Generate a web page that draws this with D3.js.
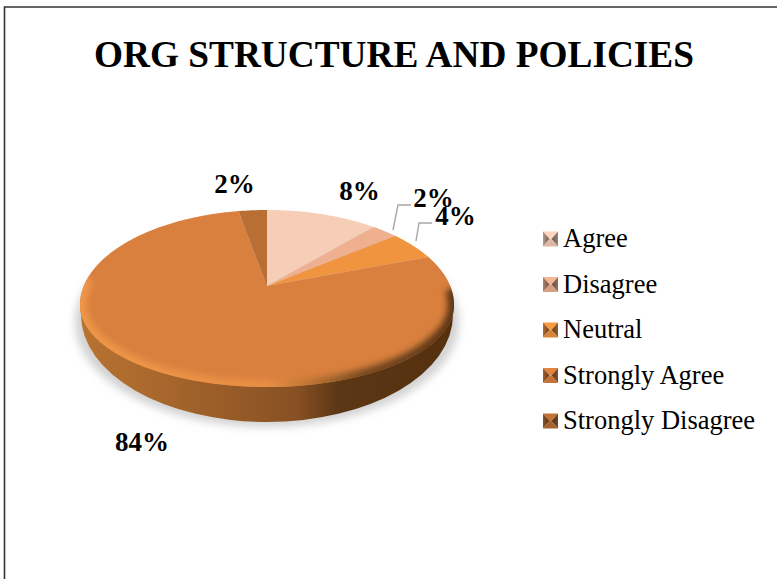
<!DOCTYPE html>
<html>
<head>
<meta charset="utf-8">
<script src="https://cdn.jsdelivr.net/npm/d3@7"></script>
<style>
  html, body { margin: 0; padding: 0; background: #fff; }
  svg { display: block; }
  text { font-family: "Liberation Serif", serif; fill: #000; }
</style>
</head>
<body>
<div id="chart"></div>
<script>
// Survey shares for the organisation structure and policies question
const categories = ["Agree", "Disagree", "Neutral", "Strongly Agree", "Strongly Disagree"];
const shares = [8, 2, 4, 84, 2];
const titleText = "ORG STRUCTURE AND POLICIES";

// Slice and legend colours
const sliceColors = ["#f6cdb6", "#eeb08e", "#f0943f", "#d9803e", "#b96f33"];

// Hand-placed value labels, leader lines where a label sits off its slice
const labelSpots = [[359.5, 200], [433.5, 207], [455.5, 225], [142, 451], [234.5, 193]];
const leaderLines = [
  [[393, 230], [398, 205], [411, 205]],
  [[416, 241], [419, 223], [432, 223]]
];

const width = 777, height = 579;
// The face is egg-shaped: its far half is deeper than its near half, as in a perspective view
const disc = { cx: 267, cy: 305, rx: 187, ryFar: 95, ryNear: 82, apexY: 286, skew: 1.22 };
const base = { cy: 315, rx: 186, ry: 107 };

const svg = d3.select("#chart").append("svg")
  .attr("width", width).attr("height", height);
const defs = svg.append("defs");

function gradient(id, stops, attrs) {
  const g = defs.append("linearGradient").attr("id", id);
  Object.entries(attrs).forEach(([k, v]) => g.attr(k, v));
  stops.forEach(([o, c]) => g.append("stop").attr("offset", o).attr("stop-color", c));
}
function blur(id, sd) {
  defs.append("filter").attr("id", id)
    .attr("x", "-10%").attr("y", "-20%").attr("width", "120%").attr("height", "140%")
    .append("feGaussianBlur").attr("stdDeviation", sd);
}

const acrossDisc = { gradientUnits: "userSpaceOnUse", x1: disc.cx - disc.rx, x2: disc.cx + disc.rx, y1: 0, y2: 0 };
gradient("wall", [[0, "#b87331"], [0.2, "#a9682d"], [0.58, "#885023"], [0.69, "#5c3716"], [1, "#55300f"]], acrossDisc);
gradient("rim", [[0, "#ee9748"], [0.5, "#e98f45"], [0.62, "#ba7433"], [0.76, "#754720"], [1, "#5c3615"]], acrossDisc);
blur("soft-shadow", 4);
blur("soft-rim", 3.2);
blur("soft-swatch", 0.5);

// Page frame: only the top and left rules are visible
svg.append("path")
  .attr("d", d3.line()([[4.5, height], [4.5, 7], [width, 7]]))
  .attr("fill", "none").attr("stroke", "#333").attr("stroke-width", 1.6);

svg.append("text")
  .attr("x", 394).attr("y", 67)
  .attr("text-anchor", "middle")
  .attr("font-size", 37.3).attr("font-weight", "bold")
  .text(titleText);

// Point on the rim of the face for an ellipse parameter, clockwise from twelve o'clock
const rimPoint = phi => {
  const c = Math.cos(phi);
  return [disc.cx + disc.rx * Math.sin(phi), disc.cy - (c >= 0 ? disc.ryFar : disc.ryNear) * c];
};
// Disc angle to ellipse parameter; the skew spreads the far side as the tilted view does
const toPhi = theta => 2 * Math.atan2(disc.skew * Math.abs(Math.sin(theta / 2)), Math.cos(theta / 2));
const rimRun = (from, to) => {
  const n = Math.max(2, Math.ceil(Math.abs(to - from) / 0.01));
  return d3.range(n + 1).map(i => rimPoint(from + (to - from) * i / n));
};
const line = d3.line();

const pie = d3.pie().sort(null).value(d => d.share).startAngle(0).endAngle(2 * Math.PI);
const arcs = pie(categories.map((name, i) => ({ name, share: shares[i] })));
const color = d3.scaleOrdinal().domain(categories).range(sliceColors);

// Drop shadow under the disc
svg.append("ellipse")
  .attr("cx", disc.cx).attr("cy", base.cy + 7)
  .attr("rx", base.rx + 6).attr("ry", base.ry - 2)
  .attr("fill", "#d2d2d2").attr("filter", "url(#soft-shadow)");

// Side wall: the near half of the smaller base outline
const { cx, rx } = disc;
svg.append("path")
  .attr("d", `M${cx - rx},${disc.cy} L${cx - base.rx},${base.cy} A${base.rx},${base.ry} 0 0 0 ${cx + base.rx},${base.cy} L${cx + rx},${disc.cy} Z`)
  .attr("fill", "url(#wall)");

// Top face slices, drawn clockwise from twelve o'clock
svg.append("g").selectAll("path")
  .data(arcs).join("path")
  .attr("d", d => line([[cx, disc.apexY], ...rimRun(toPhi(d.startAngle), toPhi(d.endAngle))]) + "Z")
  .attr("fill", d => color(d.data.name));

// Bevelled edge along the near side of the face
defs.append("clipPath").attr("id", "face")
  .append("path").attr("d", line(rimRun(0, 2 * Math.PI)) + "Z");
svg.append("g").attr("clip-path", "url(#face)")
  .append("path")
  .attr("d", line(rimRun(1.4, 5.0)))
  .attr("fill", "none").attr("stroke", "url(#rim)").attr("stroke-width", 13)
  .attr("filter", "url(#soft-rim)");

// Leader lines and value labels
svg.append("g").selectAll("path")
  .data(leaderLines).join("path")
  .attr("d", d3.line())
  .attr("fill", "none").attr("stroke", "#a6a6a6").attr("stroke-width", 1.4);

const pct = d3.format(".0%");
svg.append("g").selectAll("text")
  .data(arcs).join("text")
  .attr("x", (d, i) => labelSpots[i][0])
  .attr("y", (d, i) => labelSpots[i][1])
  .attr("text-anchor", "middle")
  .attr("font-size", 27).attr("font-weight", "bold")
  .text(d => pct(d.data.share / 100));

// Legend with pyramid-shaded swatches
const legendY = d3.scalePoint().domain(categories).range([239, 421]);
const swatch = 15, h = swatch / 2;
const legend = svg.append("g").selectAll("g")
  .data(categories).join("g")
  .attr("transform", d => `translate(543,${legendY(d)})`);

const facets = [
  { side: "top", pts: [[0, -h], [swatch, -h], [h + 1, 0], [h - 1, 0]] },
  { side: "left", pts: [[0, -h], [h - 1, 0], [0, h]] },
  { side: "right", pts: [[swatch, -h], [h + 1, 0], [swatch, h]] },
  { side: "bottom", pts: [[0, h], [h - 1, 0], [h + 1, 0], [swatch, h]] }
];
categories.forEach((name, i) => {
  const c = d3.color(color(name));
  gradient(`side-l-${i}`, [[0, c.darker(0.8)], [1, c.darker(2.4)]], { x1: 0, x2: 1, y1: 0, y2: 0 });
  gradient(`side-r-${i}`, [[0, c.darker(2.4)], [1, c.darker(1.3)]], { x1: 0, x2: 1, y1: 0, y2: 0 });
});
const facetFill = (f, name) => {
  const i = categories.indexOf(name), c = d3.color(color(name));
  if (f.side === "left") return `url(#side-l-${i})`;
  if (f.side === "right") return `url(#side-r-${i})`;
  return f.side === "top" ? c.brighter(0.1) : c.darker(0.3);
};
legend.each(function (name) {
  d3.select(this).append("g").attr("filter", "url(#soft-swatch)")
    .selectAll("polygon")
    .data(facets).join("polygon")
    .attr("points", f => f.pts.join(" "))
    .attr("fill", f => facetFill(f, name));
});
legend.append("text")
  .attr("x", 20).attr("y", 8)
  .attr("font-size", 26.5)
  .text(d => d);
</script>
</body>
</html>
